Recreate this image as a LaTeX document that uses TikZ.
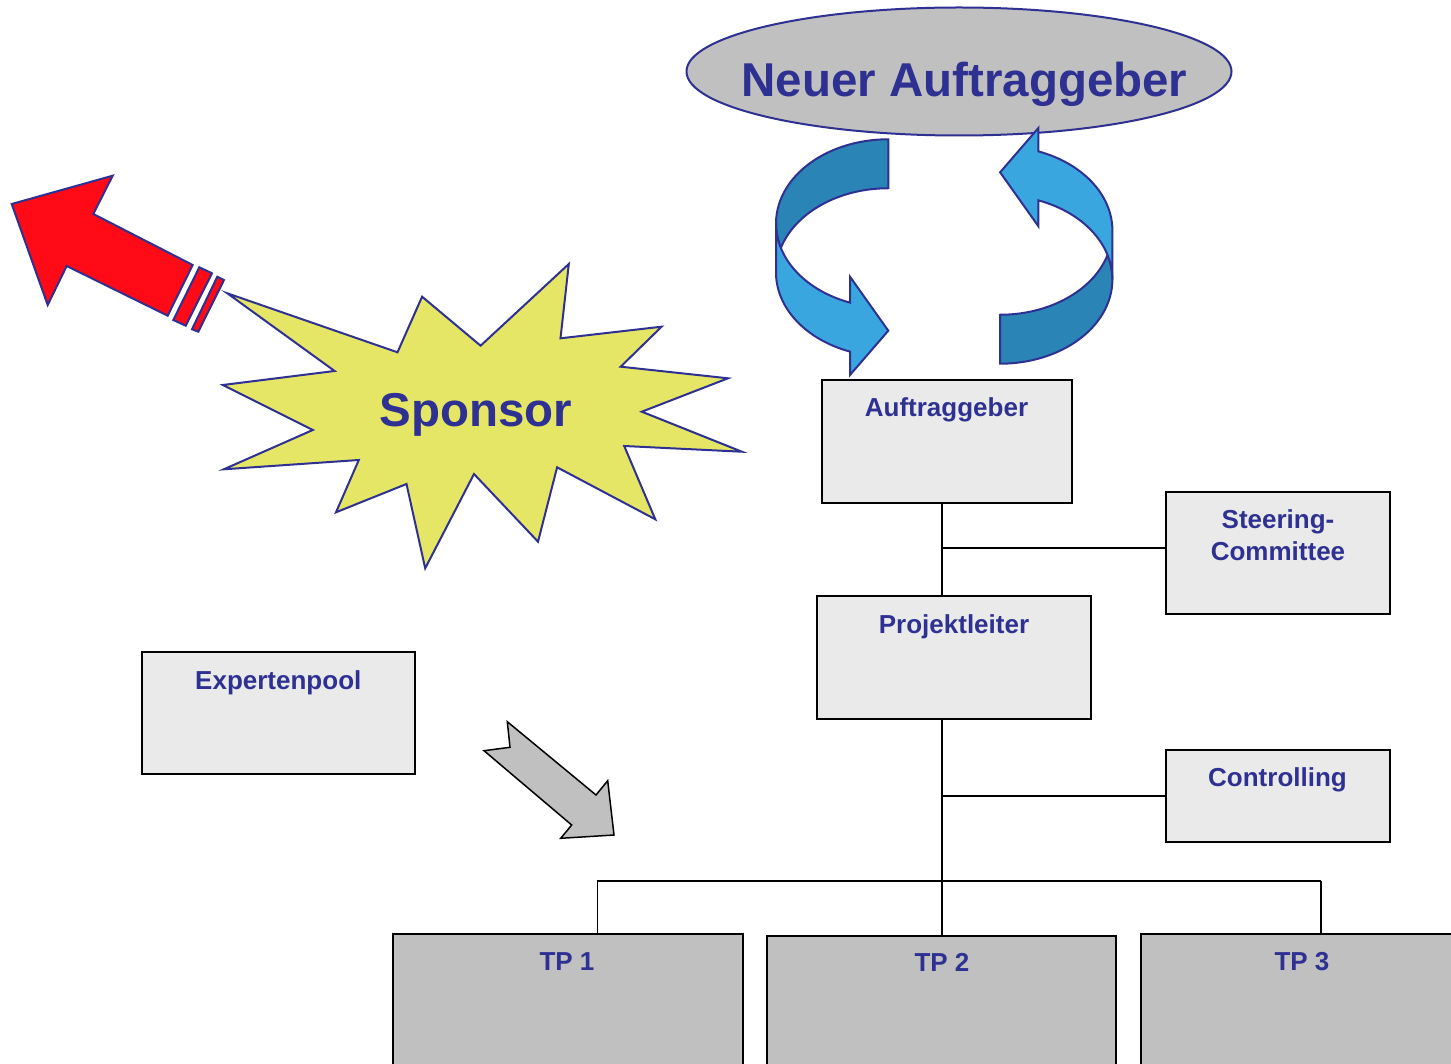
\documentclass[tikz,border=0pt]{standalone}
\usepackage{fontspec}
\setmainfont{Liberation Sans}
\definecolor{inkblue}{HTML}{2E3192}
\definecolor{boxgrey}{HTML}{EAEAEA}
\definecolor{midgrey}{HTML}{C0C0C0}
\definecolor{starfill}{HTML}{E6E666}
\definecolor{rocket}{HTML}{FF0A16}
\definecolor{ringlight}{HTML}{3AA6E0}
\definecolor{ringdark}{HTML}{2A84B5}
% one half of the rotating ring: dark inner wall and light front wall with head
\newcommand\ringhalf{%
  \filldraw[ink, fill=ringdark] (888.3,139.3)
    arc[start angle=270, end angle=163.1, x radius=112.3, y radius=84.2]
    arc[start angle=196.9, end angle=270, x radius=112.3, y radius=84.2] -- cycle;
  \filldraw[ink, fill=ringlight] (776,223.5)
    arc[start angle=180, end angle=109.94, x radius=112.3, y radius=84.2]
    -- (850,276.7) -- (888.3,330.7) -- (850,375) -- (850,351.6)
    arc[start angle=109.94, end angle=180, x radius=112.3, y radius=84.2] -- cycle;
}
\begin{document}
\begin{tikzpicture}[x=1pt, y=1pt, yscale=-1,
  ink/.style={draw=inkblue, line width=2pt, line join=miter},
  orgbox/.style={draw=black, line width=2pt, fill=boxgrey, inner sep=0pt, outer sep=0pt},
  tpbox/.style={orgbox, fill=midgrey},
  lbl/.style={text=inkblue, font=\bfseries\fontsize{26}{32}\selectfont, inner sep=0pt, anchor=base},
  big/.style={text=inkblue, font=\bfseries\fontsize{47.5}{56}\selectfont, inner sep=0pt, anchor=base},
  wire/.style={draw=black, line width=1.5pt}]
\useasboundingbox (0,0) rectangle (1451,1064);
\clip (0,0) rectangle (1451,1064);

% new client
\filldraw[ink, fill=midgrey] (959,71.5) ellipse [x radius=272.5, y radius=64];
\node[big] (neu) at (964.5,96.7) {Neuer Auftraggeber};

% circular exchange arrows
\ringhalf
\begin{scope}[rotate around={180:(944.2,251.5)}]
  \ringhalf
\end{scope}

% leaving rocket arrow
\filldraw[ink, fill=rocket] (11.7,204) -- (112.7,175.7) -- (93.3,214) -- (192.7,265)
  -- (167.7,315.7) -- (66.7,266) -- (47.7,305) -- cycle;
\filldraw[ink, fill=rocket] (199.3,267.3) -- (212,273.3) -- (185.7,325.7) -- (173.3,320) -- cycle;
\filldraw[ink, fill=rocket] (217.3,276.7) -- (224,280) -- (198.3,331.7) -- (192,329.3) -- cycle;

% sponsor burst
\filldraw[ink, fill=starfill] (227.3,293.3) -- (397.5,352.3) -- (422.1,296.7) -- (480.6,345.7)
  -- (568.8,264) -- (560.5,338.3) -- (661.6,326.7) -- (620.7,366.7) -- (728,378.3)
  -- (641.8,411.7) -- (741.8,451.7) -- (624.2,446) -- (655.3,519.3) -- (557.1,467.3)
  -- (538,541.7) -- (474,474) -- (425.2,568.3) -- (406.5,484) -- (336,512.3)
  -- (358.8,460) -- (223.8,469.3) -- (312.8,430) -- (222.8,385) -- (334.6,371) -- cycle;
\node[big] (sponsor) at (476,426) {Sponsor};

% organisation boxes
\node[orgbox, minimum width=250pt, minimum height=122.7pt] (auf) at (946.7,441.35) {};
\node[orgbox, minimum width=224.5pt, minimum height=122pt] (steer) at (1277.75,553.3) {};
\node[orgbox, minimum width=273.7pt, minimum height=123.3pt] (pl) at (954.15,657.65) {};
\node[orgbox, minimum width=224pt, minimum height=92.3pt] (ctrl) at (1278,796.15) {};
\node[orgbox, minimum width=273.3pt, minimum height=122.6pt] (exp) at (278.35,713) {};
\node[tpbox, minimum width=349.4pt, minimum height=200pt] (tp1) at (568,1034.3) {};
\node[tpbox, minimum width=349.3pt, minimum height=200pt] (tp2) at (941.35,1035.7) {};
\node[tpbox, minimum width=322.6pt, minimum height=200pt] (tp3) at (1302,1034.3) {};

\node[lbl] (aufT) at (946.5,417) {Auftraggeber};
\node[lbl] (steerT) at (1278,528.3) {Steering-};
\node[lbl] (steerU) at (1278,560) {Committee};
\node[lbl] (plT) at (954,633) {Projektleiter};
\node[lbl] (ctrlT) at (1277.5,786.7) {Controlling};
\node[lbl] (expT) at (278.3,689) {Expertenpool};
\node[lbl] (tp1T) at (567,970.7) {TP 1};
\node[lbl] (tp2T) at (942,971) {TP 2};
\node[lbl] (tp3T) at (1302,970.5) {TP 3};

% connectors
\coordinate (trunk) at (942,0);
\coordinate (jsteer) at (942,548);
\coordinate (bus) at (942,881);
\coordinate (busL) at (597.3,881);
\coordinate (busR) at (1321,881);
\draw[wire] (auf.south -| trunk) -- (pl.north -| trunk);
\draw[wire] (jsteer) -- (jsteer -| steer.west);
\draw[wire] (pl.south -| trunk) -- (tp2.north -| trunk);
\draw[wire] (ctrl.west -| trunk) -- (ctrl.west);
\draw[wire] (busL) -- (busR);
\draw[wire] (busL) -- (busL |- tp1.north);
\draw[wire] (busR) -- (busR |- tp3.north);

% hand-over arrow
\filldraw[draw=black, line width=1.5pt, fill=midgrey, line join=miter] (484,750.7) -- (510,747.3)
  -- (507.3,721.7) -- (596,795) -- (607.7,780.7) -- (614,835) -- (560.7,838.3)
  -- (571.7,825) -- cycle;
\end{tikzpicture}
\end{document}
